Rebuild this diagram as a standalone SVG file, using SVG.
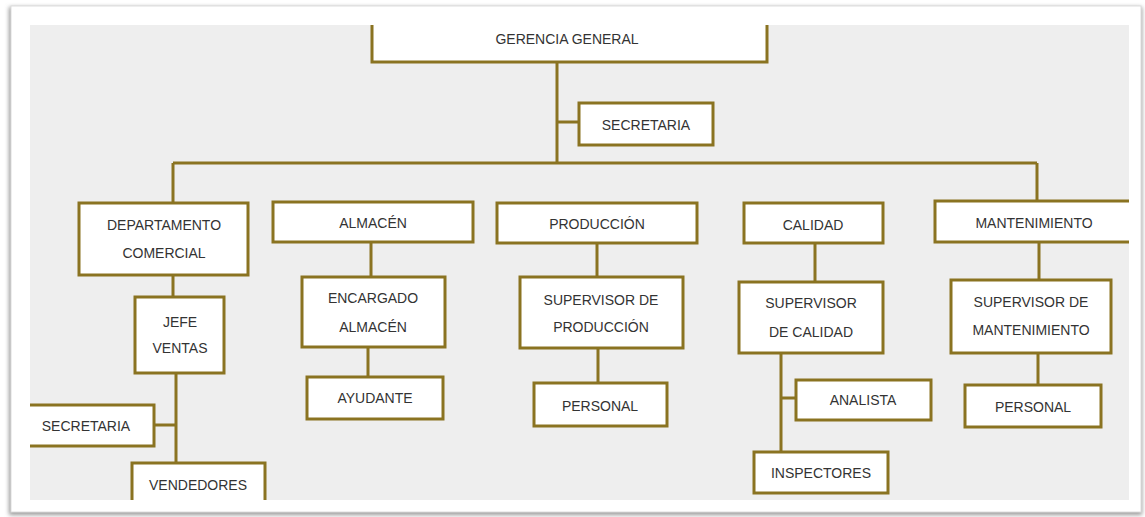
<svg xmlns="http://www.w3.org/2000/svg" width="1145" height="517" viewBox="0 0 1145 517">
<defs>
<style>
.box{fill:#ffffff;stroke:#8a7321;stroke-width:3}
.ln{fill:none;stroke:#8a7321;stroke-width:3}
text{font-family:"Liberation Sans",Arial,sans-serif;font-size:14px;fill:#333333;text-anchor:middle}
</style>
<filter id="sh" x="-5%" y="-5%" width="110%" height="110%">
<feGaussianBlur stdDeviation="2"/>
</filter>
<clipPath id="area"><rect x="30" y="25" width="1099" height="475"/></clipPath>
</defs>
<rect x="0" y="0" width="1145" height="517" fill="#ffffff"/>
<rect x="9" y="7" width="1133" height="508" fill="#9a9a9a" filter="url(#sh)"/>
<rect x="11" y="6" width="1130" height="506" fill="#ffffff" stroke="#dddddd" stroke-width="1"/>
<rect x="30" y="25" width="1099" height="475" fill="#eeeeee"/>
<g clip-path="url(#area)">
<g id="connectors">
<path class="ln" d="M557,62 V163 M557,122 H579 M173,163 H1037 M173,163 V203 M1037,163 V201"/>
<path class="ln" d="M173,275 V297 M176,373 V463 M154,425 H176"/>
<path class="ln" d="M371,242 V277 M368,347 V377"/>
<path class="ln" d="M597,243 V277 M598,348 V383"/>
<path class="ln" d="M815,243 V282 M781,353 V452 M781,398 H796"/>
<path class="ln" d="M1039,242 V280 M1038,353 V385"/>
</g>
<g id="gerencia"><rect class="box" x="372" y="10" width="395" height="52"/><text x="567" y="44">GERENCIA GENERAL</text></g>
<g id="secretaria-gerencia"><rect class="box" x="579" y="103" width="134" height="42"/><text x="646" y="130">SECRETARIA</text></g>
<g id="dep-comercial"><rect class="box" x="79" y="203" width="169" height="72"/><text x="164" y="230">DEPARTAMENTO</text><text x="164" y="258">COMERCIAL</text></g>
<g id="jefe-ventas"><rect class="box" x="135" y="297" width="89" height="76"/><text x="180" y="327">JEFE</text><text x="180" y="353">VENTAS</text></g>
<g id="secretaria-ventas"><rect class="box" x="18" y="405" width="136" height="41"/><text x="86" y="431">SECRETARIA</text></g>
<g id="vendedores"><rect class="box" x="132" y="463" width="133" height="50"/><text x="198" y="490">VENDEDORES</text></g>
<g id="almacen"><rect class="box" x="273" y="202" width="200" height="40"/><text x="373" y="228">ALMACÉN</text></g>
<g id="encargado"><rect class="box" x="302" y="277" width="143" height="70"/><text x="373" y="303">ENCARGADO</text><text x="373" y="332">ALMACÉN</text></g>
<g id="ayudante"><rect class="box" x="307" y="377" width="136" height="42"/><text x="375" y="403">AYUDANTE</text></g>
<g id="produccion"><rect class="box" x="497" y="203" width="200" height="40"/><text x="597" y="229">PRODUCCIÓN</text></g>
<g id="sup-produccion"><rect class="box" x="520" y="277" width="163" height="71"/><text x="601" y="305">SUPERVISOR DE</text><text x="601" y="332">PRODUCCIÓN</text></g>
<g id="personal-produccion"><rect class="box" x="534" y="383" width="133" height="43"/><text x="600" y="411">PERSONAL</text></g>
<g id="calidad"><rect class="box" x="744" y="203" width="139" height="40"/><text x="813" y="230">CALIDAD</text></g>
<g id="sup-calidad"><rect class="box" x="739" y="282" width="144" height="71"/><text x="811" y="308">SUPERVISOR</text><text x="811" y="337">DE CALIDAD</text></g>
<g id="analista"><rect class="box" x="796" y="380" width="135" height="40"/><text x="863" y="405">ANALISTA</text></g>
<g id="inspectores"><rect class="box" x="754" y="452" width="134" height="41"/><text x="821" y="478">INSPECTORES</text></g>
<g id="mantenimiento"><rect class="box" x="935" y="201" width="200" height="41"/><text x="1034" y="228">MANTENIMIENTO</text></g>
<g id="sup-mantenimiento"><rect class="box" x="951" y="280" width="160" height="73"/><text x="1031" y="307">SUPERVISOR DE</text><text x="1031" y="335">MANTENIMIENTO</text></g>
<g id="personal-mantenimiento"><rect class="box" x="965" y="385" width="136" height="42"/><text x="1033" y="412">PERSONAL</text></g>
</g>
</svg>
